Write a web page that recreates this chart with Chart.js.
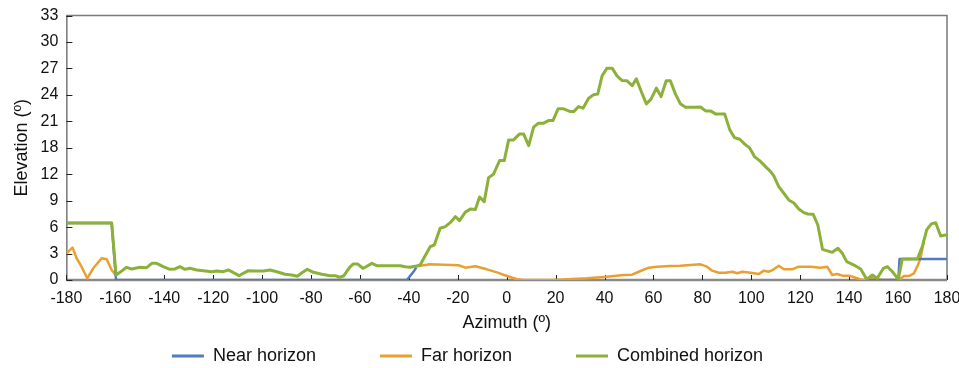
<!DOCTYPE html>
<html>
<head>
<meta charset="utf-8">
<script src="https://cdn.jsdelivr.net/npm/chart.js@4.4.1/dist/chart.umd.min.js"></script>
<style>
  html, body { margin: 0; padding: 0; background: #fff; }
</style>
</head>
<body>
<canvas id="horizonChart" width="959" height="368"></canvas>
<script>
// tick labels (as printed on the original axis)
const xTicks = [-180, -160, -140, -120, -100, -80, -60, -40, -20, 0, 20, 40, 60, 80, 100, 120, 140, 160, 180];
const yTickLabels = ['0', '3', '6', '9', '12', '18', '21', '24', '27', '30', '33'];

// Near horizon
const nearAz = [-180, -161.5, -159.7, -40.8, -37.8, -37.0, -36.5, 147.2, 148.0, 160.1, 160.6, 180];
const nearEl = [6.47, 6.47, 0, 0, 1.06, 1.40, null, 0.08, 0, 0, 2.38, 2.38];

// Far horizon
const farAz = [-180, -177.5, -175.8, -173.8, -171.5, -169.0, -165.6, -163.5, -161.5, -160.2, -159.7, -159.0,
  -37.5, -35.4, -31.3, -25.8, -19.7, -16.9, -12.8, -8.1, -4.0, 0.1, 4.2, 6.9, 19.2, 24.7, 32.8, 41.0,
  47.8, 51.3, 54.7, 58.1, 61.5, 66.9, 71.0, 76.5, 79.2, 81.9, 84.0, 86.7, 89.4, 92.2, 94.2, 96.3, 99.7,
  103.1, 105.1, 107.2, 109.2, 111.2, 113.3, 116.7, 119.4, 124.2, 128.3, 131.0, 133.1, 135.1, 137.2, 139.9,
  142.6, 145.4, 149.5, 151.5, 153.5, 160.3, 162.4, 164.4, 166.5, 168.1, 169.2, 170.6];
const farEl = [3.03, 3.67, 2.46, 1.51, 0.19, 1.33, 2.46, 2.35, 1.14, 0.68, 0.57, null,
  1.50, 1.62, 1.78, 1.74, 1.67, 1.40, 1.55, 1.21, 0.87, 0.45, 0.08, 0, 0, 0.08, 0.19, 0.38,
  0.57, 0.60, 1.02, 1.40, 1.51, 1.59, 1.62, 1.74, 1.78, 1.51, 1.06, 0.83, 0.83, 0.94, 0.76, 0.94, 0.83,
  0.68, 1.06, 0.94, 1.21, 1.62, 1.21, 1.21, 1.51, 1.51, 1.40, 1.51, 0.57, 0.68, 0.49, 0.49,
  0.26, 0, 0.26, 0.08, 0, 0, 0.45, 0.45, 0.76, 1.70, 2.46, 4.50];

// Combined horizon
const combAz = [-180, -161.5, -159.7, -158.1, -155.4, -153.3, -149.9, -147.2, -145.1, -143.1, -140.4, -137.7,
  -135.6, -133.6, -131.5, -129.5, -126.7, -124.0, -120.6, -118.5, -115.8, -113.8, -111.7, -109.4, -107.7,
  -105.6, -102.2, -99.5, -96.7, -94.0, -90.6, -87.9, -85.6, -83.4, -81.5, -79.0, -75.6, -72.2, -70.1,
  -68.4, -66.7, -64.3, -62.7, -61.0, -58.8, -57.9, -55.1, -53.1, -43.5, -41.5, -39.5, -37.5, -35.4,
  -31.3, -29.6, -27.2, -25.1, -23.1, -21.0, -19.3, -16.9, -14.9, -12.8, -11.1, -9.2, -7.4, -5.4, -2.9,
  -1.0, 0.8, 2.8, 5.3, 6.9, 9.0, 11.0, 13.0, 15.1, 17.1, 18.9, 21.0, 23.3, 26.0, 27.4, 29.4, 31.2, 33.5,
  35.5, 37.2, 39.0, 41.0, 43.1, 45.1, 47.2, 49.2, 51.3, 53.0, 55.3, 57.1, 59.0, 61.2, 63.1, 65.2, 66.9,
  69.0, 71.0, 73.1, 76.5, 79.2, 81.3, 83.3, 85.4, 89.1, 91.2, 93.1, 95.3, 97.2, 99.4, 101.3, 103.5,
  105.8, 107.9, 109.2, 111.2, 113.3, 115.3, 117.4, 119.4, 121.5, 123.1, 125.3, 127.2, 129.1, 133.1,
  135.4, 137.2, 139.0, 142.0, 144.7, 147.2, 149.5, 151.5, 154.0, 155.6, 157.7, 160.1, 161.7, 167.9,
  169.9, 171.7, 173.6, 175.4, 177.4, 179.4, 180];
const combEl = [6.47, 6.47, 0.57, 0.87, 1.44, 1.25, 1.44, 1.40, 1.89, 1.89, 1.51, 1.21,
  1.25, 1.51, 1.21, 1.33, 1.14, 1.06, 0.94, 1.02, 0.94, 1.14, 0.83, 0.49, 0.76,
  1.06, 1.02, 1.02, 1.14, 0.94, 0.65, 0.57, 0.42, 0.87, 1.21, 0.87, 0.65, 0.49, 0.49,
  0.31, 0.45, 1.40, 1.82, 1.82, 1.33, 1.44, 1.89, 1.62, 1.62, 1.51, 1.44, 1.55, 1.70,
  3.78, 3.97, 5.87, 6.05, 6.50, 7.18, 6.73, 7.70, 8.04, 8.00, 9.42, 8.89, 11.61, 12.00, 13.54,
  13.54, 15.89, 15.89, 16.57, 16.57, 15.24, 17.33, 17.79, 17.79, 18.08, 18.08, 19.41, 19.41, 19.10, 19.10, 19.67, 19.49, 20.62,
  21.00, 21.08, 23.15, 24.03, 24.03, 23.15, 22.62, 22.59, 22.05, 22.81, 21.19, 19.98, 20.51, 21.76, 20.80, 22.59, 22.59,
  21.08, 19.98, 19.60, 19.60, 19.62, 19.18, 19.18, 18.84, 18.84, 17.03, 16.15, 15.97, 15.44, 14.95, 14.00, 13.51,
  12.86, 12.29, 11.80, 10.59, 9.84, 9.08, 8.74, 8.06, 7.64, 7.49, 7.45, 6.24, 3.48, 3.14,
  3.60, 3.03, 2.08, 1.70, 1.25, 0.08, 0.57, 0.19, 1.33, 1.51, 0.94, 0.08, 2.38, 2.38,
  3.78, 5.68, 6.36, 6.50, 4.99, 5.11, 5.11];

function toPoints(az, el) {
	return az.map(function(a, i) {
		return { x: a, y: el[i] };
	});
}

// 틀(테두리), 안쪽 눈금, 범례
const framePlugin = {
	id: 'frame',
	beforeDatasetsDraw(chart) {
		const { ctx, chartArea: a, scales } = chart;
		ctx.save();
		ctx.lineCap = 'butt';
		ctx.strokeStyle = '#7a7a7a';
		ctx.lineWidth = 1.5;
		ctx.beginPath();
		ctx.moveTo(a.left, a.top);
		ctx.lineTo(a.right, a.top);
		ctx.lineTo(a.right, a.bottom);
		ctx.stroke();

		ctx.strokeStyle = '#8a8a8a';
		ctx.lineWidth = 2.5;
		ctx.beginPath();
		ctx.moveTo(a.left, a.bottom);
		ctx.lineTo(a.right, a.bottom);
		ctx.stroke();

		ctx.strokeStyle = '#333';
		ctx.lineWidth = 1;
		ctx.beginPath();
		ctx.moveTo(a.left + 0.5, a.top);
		ctx.lineTo(a.left + 0.5, a.bottom);
		ctx.stroke();

		ctx.strokeStyle = '#222';
		scales.x.ticks.forEach(function(t) {
			const px = Math.round(scales.x.getPixelForValue(t.value)) + 0.5;
			ctx.beginPath();
			ctx.moveTo(px, a.bottom);
			ctx.lineTo(px, a.bottom - 5);
			ctx.stroke();
		});
		scales.y.ticks.forEach(function(t) {
			const py = Math.round(scales.y.getPixelForValue(t.value)) + 0.5;
			ctx.beginPath();
			ctx.moveTo(a.left, py);
			ctx.lineTo(a.left + 6, py);
			ctx.stroke();
		});
		ctx.restore();
	},
	afterDraw(chart) {
		const ctx = chart.ctx;
		const lineW = 32, textGap = 9, itemGap = 64;
		const yc = 356;
		ctx.save();
		ctx.font = "18px 'Liberation Sans', Arial, sans-serif";
		ctx.textBaseline = 'middle';
		let items = chart.data.datasets.map(function(ds) {
			return { text: ds.label, color: ds.borderColor, w: ctx.measureText(ds.label).width };
		});
		let total = 0;
		items.forEach(function(it, i) {
			total += lineW + textGap + it.w + (i > 0 ? itemGap : 0);
		});
		let x = chart.width / 2 - total / 2 - 12;
		items.forEach(function(it) {
			ctx.fillStyle = it.color;
			ctx.fillRect(x, yc - 1.5, lineW, 3);
			ctx.fillStyle = '#111';
			ctx.fillText(it.text, x + lineW + textGap, yc);
			x += lineW + textGap + it.w + itemGap;
		});
		ctx.restore();
	}
};

Chart.defaults.font.family = "'Liberation Sans', Arial, sans-serif";
Chart.defaults.color = '#111';

const ctx = document.getElementById('horizonChart').getContext('2d');
const horizonChart = new Chart(ctx, {
	type: 'line',
	data: {
		datasets: [{
			label: 'Near horizon',
			data: toPoints(nearAz, nearEl),
			borderColor: '#4f7bc3',
			borderWidth: 2.5,
			order: 1
		}, {
			label: 'Far horizon',
			data: toPoints(farAz, farEl),
			borderColor: '#e9a030',
			borderWidth: 2.5,
			order: 2
		}, {
			label: 'Combined horizon',
			data: toPoints(combAz, combEl),
			borderColor: '#8cb13a',
			borderWidth: 3,
			order: 0
		}]
	},
	options: {
		responsive: false,
		animation: false,
		elements: {
			point: { radius: 0 },
			line: { tension: 0, borderJoinStyle: 'round' }
		},
		layout: {
			padding: { left: 11, right: 0, top: 0, bottom: 34 }
		},
		scales: {
			x: {
				type: 'linear',
				min: -180,
				max: 180,
				afterBuildTicks: function(scale) {
					scale.ticks = xTicks.map(function(v) { return { value: v }; });
				},
				afterFit: function(scale) {
					scale.paddingRight = 12;
				},
				ticks: {
					autoSkip: false,
					maxRotation: 0,
					padding: 9,
					font: { size: 16 }
				},
				grid: { display: false, drawTicks: false, tickLength: 0 },
				border: { display: false },
				title: {
					display: true,
					text: 'Azimuth (º)',
					font: { size: 18 },
					padding: { top: -4.8, bottom: 0 }
				}
			},
			y: {
				type: 'linear',
				min: 0,
				max: 30,
				afterFit: function(scale) {
					scale.paddingTop = 15.5;
				},
				ticks: {
					stepSize: 3,
					padding: 8,
					font: { size: 16 },
					callback: function(value, index) {
						return yTickLabels[index];
					}
				},
				grid: { display: false, drawTicks: false, tickLength: 0 },
				border: { display: false },
				title: {
					display: true,
					text: 'Elevation (º)',
					font: { size: 18 },
					padding: { top: 0, bottom: 0 }
				}
			}
		},
		plugins: {
			legend: { display: false },
			tooltip: { enabled: false }
		}
	},
	plugins: [framePlugin]
});
</script>
</body>
</html>
